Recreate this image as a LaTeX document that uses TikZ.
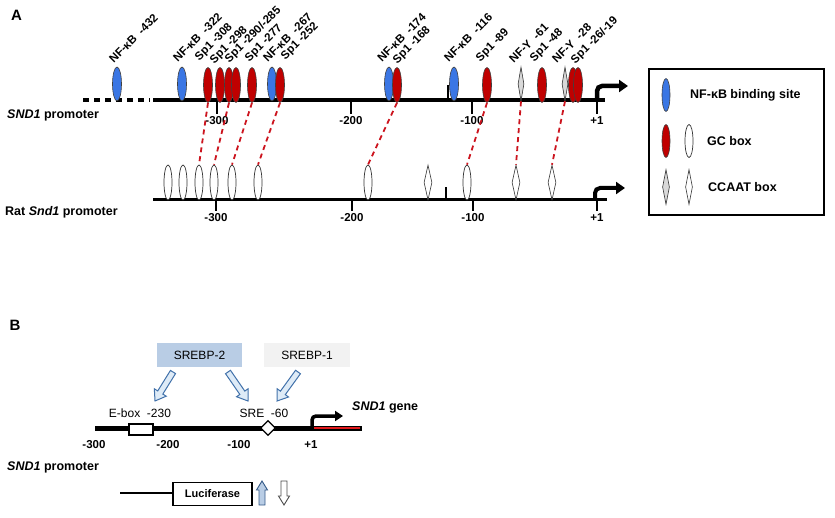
\documentclass[tikz,border=0pt]{standalone}
\usepackage{fontspec}
\setmainfont{Liberation Sans}
\usetikzlibrary{shapes.geometric,arrows.meta,calc}
\definecolor{nfblue}{RGB}{58,118,228}
\definecolor{gcred}{RGB}{192,0,0}
\definecolor{dashred}{RGB}{204,20,30}
\definecolor{ccaatgray}{RGB}{217,217,217}
\definecolor{srebptwo}{RGB}{185,205,229}
\definecolor{srebpone}{RGB}{242,242,242}
\definecolor{arrblue}{RGB}{65,113,170}
\definecolor{arrfill}{RGB}{222,235,247}
\definecolor{lineRed}{RGB}{227,26,28}
\newcommand\myharrow[6]{%
  \coordinate (hb) at ($(#3)!#6!(#2)$);
  \filldraw[#1] ($(#2)!#4!90:(#3)$) -- ($(hb)!#4!90:(#3)$) -- ($(hb)!#5!90:(#3)$) -- (#3) -- ($(hb)!#5!-90:(#3)$) -- ($(hb)!#4!-90:(#3)$) -- ($(#2)!#4!-90:(#3)$) -- cycle;
}
\begin{document}
\begin{tikzpicture}[x=1pt,y=-1pt,
  lab/.style={font=\fontsize{11.5}{13}\selectfont\bfseries, rotate=45, anchor=south west, inner sep=0},
  nfk/.style={ellipse, draw=black!75, line width=0.6pt, fill=nfblue, minimum width=9pt, minimum height=34pt, inner sep=0},
  gc/.style={nfk, fill=gcred, minimum height=35pt},
  gcw/.style={ellipse, draw=black!80, line width=0.7pt, fill=white, minimum width=8pt, minimum height=35pt, inner sep=0},
  ccg/.style={diamond, draw=black!80, line width=0.6pt, fill=ccaatgray, minimum width=6pt, minimum height=34pt, inner sep=0},
  ccw/.style={ccg, fill=white, minimum width=8pt, minimum height=35pt},
  link/.style={draw=dashred, dash pattern=on 5pt off 4pt, line width=1.8pt},
  tickmark/.style={line width=2.5pt},
  ticklab/.style={font=\fontsize{11.5}{13}\selectfont\bfseries, inner sep=0},
  sidelab/.style={font=\fontsize{12.5}{14}\selectfont\bfseries, anchor=west, inner sep=0},
  panel/.style={font=\fontsize{15}{17}\selectfont\bfseries, inner sep=0},
  bentarrow/.style={line width=4.5pt, rounded corners=5pt, -{Triangle[length=9pt,width=12pt]}},
  plainlab/.style={font=\fontsize{12}{14}\selectfont, inner sep=0},
  hollow/.style={draw=arrblue, fill=arrfill, line width=1pt},
]
\useasboundingbox (0,0) rectangle (835,518);

% ---------------- Panel A ----------------
\node[panel] (pA) at (16.5,15) {A};

% human promoter line
\draw[line width=4.5pt, dash pattern=on 6pt off 5pt] (83,100) -- (150,100);
\draw[line width=4.5pt] (153,100) -- (605,100);
\foreach \x/\t in {217/-300,351/-200,472/-100,597/+1}{
  \draw[tickmark] (\x,100) -- (\x,114);
  \node[ticklab] (ht\x) at (\x,121) {\t};
}
\draw[tickmark] (448,100) -- (448,85);
\coordinate (ta0) at (597,100);
\coordinate (ta1) at (628,86);
\draw[bentarrow] (ta0) |- (ta1);

\node[sidelab] (snd1a) at (7,115) {\textit{SND1} promoter};

% elements
\node[nfk] (e432) at (117,84) {};
\node[nfk] (e322) at (182,84) {};
\node[gc] (e308) at (208,85) {};
\node[gc] (e298) at (220,85) {};
\node[gc] (e290) at (229,85) {};
\node[gc] (e285) at (236,85) {};
\node[gc] (e277) at (252,85) {};
\node[nfk] (e267) at (272,84) {};
\node[gc] (e252) at (280,85) {};
\node[nfk] (e174) at (389,84) {};
\node[gc] (e168) at (397,85) {};
\node[nfk] (e116) at (454,84) {};
\node[gc] (e89) at (487,85) {};
\node[ccg] (e61) at (521,84) {};
\node[gc] (e48) at (542,85) {};
\node[ccg] (e28) at (565,84) {};
\node[gc] (e26) at (573,85) {};
\node[gc] (e19) at (578,85) {};

% labels
\node[lab] (l432) at (114,64) {NF-κB\ \ -432};
\node[lab] (l322) at (178,63) {NF-κB\ \ -322};
\node[lab] (l308) at (201,63) {Sp1 -308};
\node[lab] (l298) at (216,66) {Sp1 -298};
\node[lab] (l290) at (231,65) {Sp1 -290/-285};
\node[lab] (l277) at (251,64) {Sp1 -277};
\node[lab] (l267) at (268,63) {NF-κB\ \ -267};
\node[lab] (l252) at (287,62) {Sp1 -252};
\node[lab] (l174) at (382,63) {NF-κB\ \ -174};
\node[lab] (l168) at (399,66) {Sp1 -168};
\node[lab] (l116) at (449,63) {NF-κB\ \ -116};
\node[lab] (l89) at (482,64) {Sp1 -89};
\node[lab] (l61) at (514,64) {NF-Y\ \ -61};
\node[lab] (l48) at (536,64) {Sp1 -48};
\node[lab] (l28) at (557,64) {NF-Y\ \ -28};
\node[lab] (l26) at (577,66) {Sp1 -26/-19};

% rat promoter line
\draw[line width=3pt] (153,200) -- (607,200);
\foreach \x/\t in {216/-300,352/-200,473/-100,597/+1}{
  \draw[tickmark] (\x,200) -- (\x,211);
  \node[ticklab] (rt\x) at (\x,218) {\t};
}
\draw[tickmark] (446,200) -- (446,187);
\coordinate (ra0) at (595,200);
\coordinate (ra1) at (625,188);
\draw[bentarrow, line width=4pt] (ra0) |- (ra1);

\node[sidelab] (rata) at (5,212) {Rat \textit{Snd1} promoter};

\node[gcw] (r1) at (168,182.5) {};
\node[gcw] (r2) at (183,182.5) {};
\node[gcw] (r3) at (199,182.5) {};
\node[gcw] (r4) at (214,182.5) {};
\node[gcw] (r5) at (232,182.5) {};
\node[gcw] (r6) at (258,182.5) {};
\node[gcw] (r7) at (368,182.5) {};
\node[ccw] (r8) at (428,182.5) {};
\node[gcw] (r9) at (467,182.5) {};
\node[ccw] (r10) at (516,182.5) {};
\node[ccw] (r11) at (552,182.5) {};

% homology links
\draw[link] (e308.south) -- (r3.north);
\draw[link] (e290.south) -- (r4.north);
\draw[link] (e277.south) -- (r5.north);
\draw[link] (e252.south) -- (r6.north);
\draw[link] (e168.south) -- (r7.north);
\draw[link] (e89.south) -- (r9.north);
\draw[link] (e61.south) -- (r10.north);
\draw[link] (e28.south) -- (r11.north);

% legend
\node[draw, line width=1.5pt, minimum width=175pt, minimum height=146pt, inner sep=0] (legend) at (736.5,142) {};
\node[nfk, minimum width=8pt, minimum height=33pt] (lg1) at (666,95) {};
\node[font=\fontsize{12.5}{14}\selectfont\bfseries, anchor=west, inner sep=0] (lgt1) at (690,95) {NF-κB binding site};
\node[gc, minimum width=8pt, minimum height=33pt] (lg2) at (666,141) {};
\node[gcw, minimum height=33pt] (lg3) at (689,141) {};
\node[font=\fontsize{12.5}{14}\selectfont\bfseries, anchor=west, inner sep=0] (lgt2) at (707,141) {GC box};
\node[ccg, minimum width=7pt, minimum height=35pt] (lg4) at (666,187) {};
\node[ccw, minimum width=7pt, minimum height=35pt] (lg5) at (689,187) {};
\node[font=\fontsize{12.5}{14}\selectfont\bfseries, anchor=west, inner sep=0] (lgt3) at (708,187) {CCAAT box};

% ---------------- Panel B ----------------
\node[panel] (pB) at (15,325) {B};

\node[fill=srebptwo, minimum width=85pt, minimum height=24pt, inner sep=0, font=\fontsize{12}{14}\selectfont] (srebp2) at (199.5,355) {SREBP-2};
\node[fill=srebpone, minimum width=86pt, minimum height=24pt, inner sep=0, font=\fontsize{12}{14}\selectfont] (srebp1) at (307,355) {SREBP-1};

\coordinate (a1s) at (173,372);
\coordinate (a1e) at (155,401);
\coordinate (a2s) at (228,372);
\coordinate (a2e) at (248,401);
\coordinate (a3s) at (298,372);
\coordinate (a3e) at (277,401);
\myharrow{hollow}{a1s}{a1e}{3pt}{7pt}{10pt}
\myharrow{hollow}{a2s}{a2e}{3pt}{7pt}{10pt}
\myharrow{hollow}{a3s}{a3e}{3pt}{7pt}{10pt}

\node[plainlab] (eboxlab) at (140,413) {E-box\ \ -230};
\node[plainlab] (srelab) at (264,413) {SRE\ \ -60};

\draw[line width=5pt] (95,428) -- (362,428);
\draw[line width=2.8pt, lineRed] (314,428) -- (360,428);
\node[draw, fill=white, line width=1.2pt, minimum width=24pt, minimum height=11pt, inner sep=0] (ebox) at (141,429.5) {};
\node[diamond, draw, fill=white, line width=1.2pt, minimum width=15pt, minimum height=15pt, inner sep=0] (sre) at (268,428) {};

\coordinate (ba0) at (312,428);
\coordinate (ba1) at (343,416);
\draw[bentarrow, line width=3.5pt, rounded corners=4pt, -{Triangle[length=8pt,width=10pt]}] (ba0) |- (ba1);
\node[font=\fontsize{12.5}{14}\selectfont\bfseries, anchor=west, inner sep=0] (genelab) at (352,407) {\textit{SND1} gene};

\node[ticklab] (bt300) at (94,445) {-300};
\node[ticklab] (bt200) at (168,445) {-200};
\node[ticklab] (bt100) at (239,445) {-100};
\node[ticklab] (bt1) at (311,445) {+1};

\node[sidelab] (snd1b) at (7,467) {\textit{SND1} promoter};

\node[draw, line width=1.2pt, minimum width=79pt, minimum height=23pt, inner sep=0, font=\fontsize{11}{13}\selectfont\bfseries] (luc) at (212.5,494) {Luciferase};
\coordinate (lucl) at (120,493);
\draw[line width=1.5pt] (lucl) -- (luc.west |- lucl);

\coordinate (u0) at (262,505);
\coordinate (u1) at (262,481);
\coordinate (d0) at (284,481);
\coordinate (d1) at (284,505);
\myharrow{draw=arrblue!80!black, fill=srebptwo, line width=0.9pt}{u0}{u1}{3pt}{5.5pt}{9pt}
\myharrow{draw=black!70, fill=white, line width=0.9pt}{d0}{d1}{3pt}{5.5pt}{9pt}

\end{tikzpicture}
\end{document}
